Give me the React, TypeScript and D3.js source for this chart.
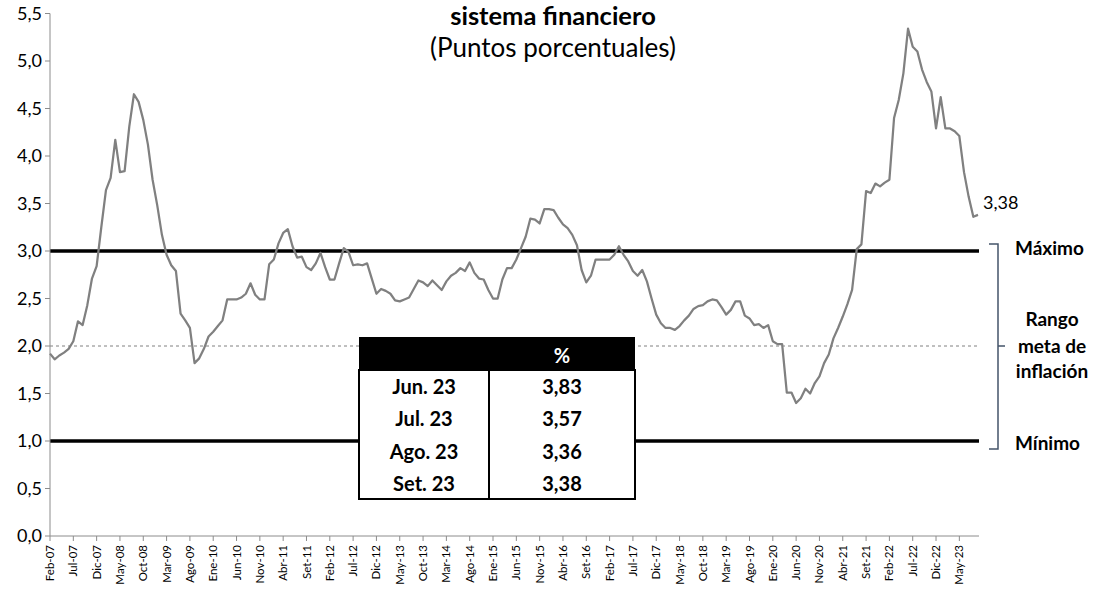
import React from "react";
import * as d3 from "d3";

const MONTHS_AXIS = ["Ene", "Feb", "Mar", "Abr", "May", "Jun", "Jul", "Ago", "Set", "Oct", "Nov", "Dic"];

// Monthly categories Feb-07 .. Set-23
const START_YEAR = 2007;
const START_MONTH = 1; // Feb (0-based)
const N_MONTHS = 200;

const values: number[] = [
  1.92, 1.86, 1.90, 1.93, 1.97, 2.05, 2.26, 2.22, 2.43, 2.71,
  2.84, 3.25, 3.64, 3.77, 4.17, 3.83, 3.84, 4.31, 4.65, 4.57,
  4.38, 4.12, 3.75, 3.48, 3.17, 2.96, 2.85, 2.79, 2.34, 2.27,
  2.19, 1.82, 1.87, 1.97, 2.10, 2.15, 2.21, 2.27, 2.49, 2.49,
  2.49, 2.51, 2.55, 2.66, 2.54, 2.49, 2.49, 2.86, 2.91, 3.08,
  3.19, 3.23, 3.05, 2.93, 2.94, 2.83, 2.80, 2.87, 2.98, 2.83,
  2.70, 2.70, 2.87, 3.03, 2.99, 2.85, 2.86, 2.85, 2.87, 2.71,
  2.55, 2.60, 2.58, 2.55, 2.48, 2.47, 2.49, 2.51, 2.60, 2.69,
  2.67, 2.63, 2.69, 2.64, 2.59, 2.68, 2.74, 2.77, 2.82, 2.79,
  2.88, 2.77, 2.71, 2.70, 2.59, 2.50, 2.50, 2.70, 2.82, 2.82,
  2.91, 3.03, 3.15, 3.34, 3.33, 3.29, 3.44, 3.44, 3.43, 3.35,
  3.28, 3.24, 3.17, 3.06, 2.80, 2.67, 2.74, 2.91, 2.91, 2.91,
  2.91, 2.96, 3.05, 2.96, 2.89, 2.79, 2.74, 2.80, 2.68, 2.50,
  2.33, 2.24, 2.19, 2.19, 2.17, 2.21, 2.27, 2.32, 2.39, 2.42,
  2.43, 2.47, 2.49, 2.48, 2.41, 2.33, 2.38, 2.47, 2.47, 2.32,
  2.29, 2.22, 2.23, 2.19, 2.22, 2.05, 2.02, 2.02, 1.51, 1.51,
  1.40, 1.45, 1.55, 1.50, 1.61, 1.68, 1.82, 1.91, 2.08, 2.19,
  2.31, 2.44, 2.59, 3.02, 3.07, 3.63, 3.61, 3.71, 3.68, 3.72,
  3.75, 4.40, 4.59, 4.87, 5.34, 5.15, 5.10, 4.91, 4.78, 4.68,
  4.29, 4.62, 4.29, 4.29, 4.26, 4.21, 3.83, 3.57, 3.36, 3.38,
];

const yTicks = [0, 0.5, 1, 1.5, 2, 2.5, 3, 3.5, 4, 4.5, 5, 5.5];
const rangeMax = 3;
const rangeMin = 1;
const targetMid = 2;

const tableRows = ["Jun. 23", "Jul. 23", "Ago. 23", "Set. 23"];
const tableValues = ["3,83", "3,57", "3,36", "3,38"];
const lastLabel = "3,38";

const categories: string[] = d3.range(N_MONTHS).map((i) => {
  const m = (START_MONTH + i) % 12;
  const y = START_YEAR + Math.floor((START_MONTH + i) / 12);
  return `${MONTHS_AXIS[m]}-${String(y % 100).padStart(2, "0")}`;
});
const tickEvery = 5;
const tickLabels = categories.filter((_, i) => i % tickEvery === 0);

const FONT = "Lato, 'Noto Sans', sans-serif";
const AXIS = "#8c8c8c";

export default function App() {
  const left = 50;
  const right = 978;
  const top = 13.5;
  const bottom = 536;

  const x = d3.scalePoint<string>().domain(categories).range([left, right]);
  const y = d3.scaleLinear().domain([0, 5.5]).range([bottom, top]);

  const line = d3
    .line<number>()
    .x((_, i) => x(categories[i]) as number)
    .y((d) => y(d));

  const fmt = (v: number) => v.toFixed(1).replace(".", ",");

  const lineEnd = 979;
  const tX = 359, tR = 635, tDiv = 489, tTop = 337, tHead = 370, tBot = 499;
  const rowH = (tBot - tHead) / tableRows.length;

  return (
    <svg
      width={1093}
      height={590}
      style={{ position: "absolute", left: 0, top: 0, background: "#fff" }}
      fontFamily={FONT}
    >
      {/* Title */}
      <text x={553} y={25} textAnchor="middle" fontSize={25.5} fontWeight="bold" fill="#000">
        sistema financiero
      </text>
      <text x={553} y={57} textAnchor="middle" fontSize={26} fill="#000">
        (Puntos porcentuales)
      </text>

      {/* target lines */}
      <line x1={left} x2={lineEnd} y1={y(targetMid)} y2={y(targetMid)} stroke="#808080" strokeWidth={1} strokeDasharray="3,3" />
      <line x1={left} x2={lineEnd} y1={y(rangeMax)} y2={y(rangeMax)} stroke="#000" strokeWidth={3.5} />
      <line x1={left} x2={lineEnd} y1={y(rangeMin)} y2={y(rangeMin)} stroke="#000" strokeWidth={3.5} />

      {/* Y axis */}
      <line x1={left} x2={left} y1={top} y2={bottom} stroke={AXIS} strokeWidth={1} />
      {yTicks.map((t) => (
        <g key={t}>
          <line x1={left - 5} x2={left} y1={y(t)} y2={y(t)} stroke={AXIS} />
          <text x={42} y={y(t)} dy="0.35em" textAnchor="end" fontSize={18} fill="#000">
            {fmt(t)}
          </text>
        </g>
      ))}

      {/* X axis */}
      <line x1={left} x2={lineEnd} y1={bottom} y2={bottom} stroke={AXIS} strokeWidth={1} />
      {tickLabels.map((c) => {
        const px = x(c) as number;
        return (
          <g key={c}>
            <line x1={px} x2={px} y1={bottom} y2={bottom + 5} stroke={AXIS} />
            <text
              transform={`translate(${px},${bottom + 9}) rotate(-90)`}
              textAnchor="end"
              dy="0.35em"
              fontSize={11.5}
              fill="#000"
            >
              {c}
            </text>
          </g>
        );
      })}

      {/* Series */}
      <path d={line(values) || ""} fill="none" stroke="#808080" strokeWidth={2.25} strokeLinejoin="round" />

      {/* last value label */}
      <text x={983} y={y(values[values.length - 1]) - 12} dy="0.35em" fontSize={18} fill="#000">
        {lastLabel}
      </text>

      {/* Table */}
      <rect x={tX} y={tTop} width={tR - tX} height={tHead - tTop} fill="#000" />
      <rect x={tX} y={tHead} width={tR - tX} height={tBot - tHead} fill="#fff" stroke="#000" strokeWidth={2} />
      <line x1={tDiv} x2={tDiv} y1={tHead} y2={tBot} stroke="#000" strokeWidth={2} />
      <text x={(tDiv + tR) / 2} y={(tTop + tHead) / 2 + 2} dy="0.35em" textAnchor="middle" fontSize={20} fontWeight="bold" fill="#fff">
        %
      </text>
      {tableRows.map((r, i) => (
        <g key={r}>
          <text x={(tX + tDiv) / 2} y={tHead + rowH * (i + 0.5) + 1} dy="0.35em" textAnchor="middle" fontSize={20} fontWeight="bold" fill="#000">
            {r}
          </text>
          <text x={(tDiv + tR) / 2} y={tHead + rowH * (i + 0.5) + 1} dy="0.35em" textAnchor="middle" fontSize={20} fontWeight="bold" fill="#000">
            {tableValues[i]}
          </text>
        </g>
      ))}

      {/* Bracket */}
      <path
        d={`M989,${y(rangeMax) - 7} L998,${y(rangeMax) - 7} L998,${y(rangeMin) + 8} L989,${y(rangeMin) + 8} M998,${y(targetMid)} L1005,${y(targetMid)}`}
        fill="none"
        stroke="#44546a"
        strokeWidth={1.5}
      />
      <text x={1015} y={248} dy="0.35em" fontSize={19} fontWeight="bold" fill="#000">Máximo</text>
      <text x={1015} y={443} dy="0.35em" fontSize={19} fontWeight="bold" fill="#000">Mínimo</text>
      <text x={1052} y={319} dy="0.35em" textAnchor="middle" fontSize={19} fontWeight="bold" fill="#000">Rango</text>
      <text x={1052} y={346} dy="0.35em" textAnchor="middle" fontSize={19} fontWeight="bold" fill="#000">meta de</text>
      <text x={1052} y={371} dy="0.35em" textAnchor="middle" fontSize={19} fontWeight="bold" fill="#000">inflación</text>
    </svg>
  );
}
